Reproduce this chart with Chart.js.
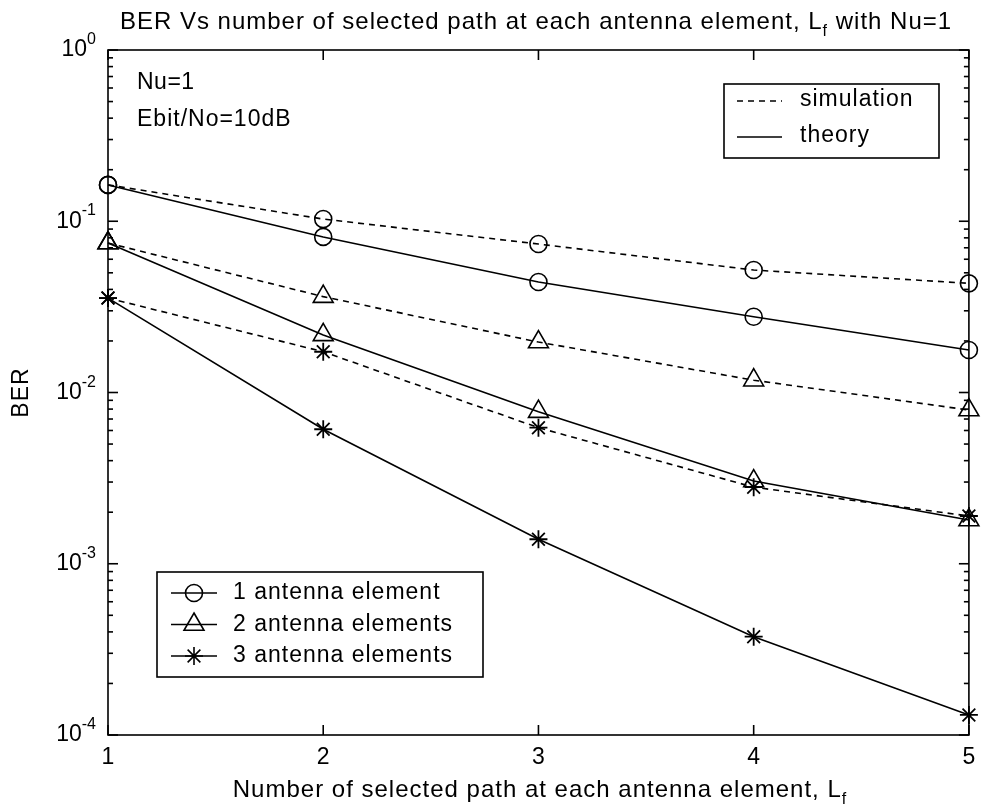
<!DOCTYPE html>
<html>
<head>
<meta charset="utf-8">
<script src="https://cdn.jsdelivr.net/npm/chart.js@4.4.0/dist/chart.umd.min.js"></script>
<style>
html, body { margin: 0; padding: 0; background: #fff; }
#wrap { width: 982px; height: 810px; position: relative; }
</style>
</head>
<body>
<div id="wrap"><canvas id="berChart"></canvas></div>
<script>
// number of selected paths L_f
const pathCounts = [1, 2, 3, 4, 5];

// BER values
const sim1 = [0.163, 0.103, 0.0736, 0.0519, 0.0434];
const theory1 = [0.163, 0.081, 0.0442, 0.0277, 0.0177];
const sim2 = [0.0746, 0.0363, 0.0197, 0.0118, 0.0079];
const theory2 = [0.0746, 0.0217, 0.00773, 0.00304, 0.0018];
const sim3 = [0.0356, 0.0173, 0.00623, 0.0028, 0.0019];
const theory3 = [0.0356, 0.0061, 0.00139, 0.000375, 0.000131];

// axis ticks
const xTickValues = [1, 2, 3, 4, 5];
const yDecades = [1, 0.1, 0.01, 0.001, 0.0001];
const yExponents = ['0', '-1', '-2', '-3', '-4'];

const elementLabels = ['1 antenna element', '2 antenna elements', '3 antenna elements'];
const markerStyles = ['circle', 'triangle', 'star'];

const FONT = '"Liberation Sans", Arial, sans-serif';
const INK = '#000';
const markerRadius = { circle: 8.5, triangle: 11.5, star: 9 };

function toPoints(values) {
    return values.map((v, i) => ({ x: pathCounts[i], y: v }));
}

function makeSet(label, values, style, dashed) {
    return {
        label: label,
        data: toPoints(values),
        borderColor: INK,
        borderWidth: 1.6,
        borderDash: dashed ? [6, 5] : [],
        pointStyle: style,
        pointRadius: markerRadius[style],
        pointBorderColor: INK,
        pointBackgroundColor: 'rgba(0,0,0,0)',
        pointBorderWidth: style === 'star' ? 1.8 : 1.6,
        tension: 0,
        fill: false,
        clip: false
    };
}

// draw text made of plain / subscript / superscript parts
function drawParts(ctx, parts, x, y, align, size, spacing) {
    ctx.letterSpacing = (spacing || 0) + 'px';
    const widths = parts.map(p => {
        ctx.font = (p.sub || p.sup ? Math.round(size * 0.68) : size) + 'px ' + FONT;
        return ctx.measureText(p.t).width;
    });
    const total = widths.reduce((s, w) => s + w, 0);
    let cx = align === 'center' ? x - total / 2 : (align === 'right' ? x - total : x);
    ctx.textAlign = 'left';
    ctx.textBaseline = 'middle';
    parts.forEach((p, i) => {
        const small = p.sub || p.sup;
        ctx.font = (small ? Math.round(size * 0.68) : size) + 'px ' + FONT;
        const dy = p.sub ? size * 0.38 : (p.sup ? -size * 0.45 : 0);
        ctx.fillText(p.t, cx, y + dy);
        cx += widths[i];
    });
    ctx.letterSpacing = '0px';
}

function seg(ctx, x1, y1, x2, y2) {
    ctx.beginPath();
    ctx.moveTo(x1, y1);
    ctx.lineTo(x2, y2);
    ctx.stroke();
}

const matlabAxes = {
    id: 'matlabAxes',
    beforeDatasetsDraw(chart) {
        const { ctx, chartArea: a, scales: { x, y } } = chart;
        ctx.save();
        ctx.strokeStyle = INK;
        ctx.lineWidth = 1.6;
        ctx.strokeRect(a.left, a.top, a.right - a.left, a.bottom - a.top);

        // x ticks, inward on bottom and top
        xTickValues.forEach(v => {
            const px = x.getPixelForValue(v);
            seg(ctx, px, a.bottom, px, a.bottom - 10);
            seg(ctx, px, a.top, px, a.top + 10);
        });

        // y ticks: decades and minor ticks
        yDecades.forEach((d, i) => {
            const py = y.getPixelForValue(d);
            seg(ctx, a.left, py, a.left + 10, py);
            seg(ctx, a.right, py, a.right - 10, py);
            if (i === yDecades.length - 1) return;
            for (let m = 2; m <= 9; m++) {
                const my = y.getPixelForValue(d * m / 10);
                seg(ctx, a.left, my, a.left + 5, my);
                seg(ctx, a.right, my, a.right - 5, my);
            }
        });
        ctx.restore();
    },
    afterDraw(chart) {
        const { ctx, chartArea: a, scales: { x, y } } = chart;
        ctx.save();
        ctx.fillStyle = INK;
        ctx.strokeStyle = INK;

        // tick labels
        ctx.font = '23px ' + FONT;
        ctx.textAlign = 'center';
        ctx.textBaseline = 'middle';
        xTickValues.forEach(v => {
            ctx.fillText(String(v), x.getPixelForValue(v), a.bottom + 23);
        });
        yDecades.forEach((d, i) => {
            const py = y.getPixelForValue(d);
            drawParts(ctx, [{ t: '10' }, { t: yExponents[i], sup: true }], a.left - 12, py, 'right', 23, 0);
        });

        // titles
        drawParts(ctx, [
            { t: 'BER Vs number of selected path at each antenna element, L' },
            { t: 'f', sub: true },
            { t: ' with Nu=1' }
        ], 536, 22, 'center', 24, 1);
        drawParts(ctx, [
            { t: 'Number of selected path at each antenna element, L' },
            { t: 'f', sub: true }
        ], 540, 790, 'center', 24, 1);

        ctx.save();
        ctx.translate(22, (a.top + a.bottom) / 2);
        ctx.rotate(-Math.PI / 2);
        drawParts(ctx, [{ t: 'BER' }], 0, 0, 'center', 23, 1);
        ctx.restore();

        // annotation text
        drawParts(ctx, [{ t: 'Nu=1' }], 137, 83, 'left', 23, 0.5);
        drawParts(ctx, [{ t: 'Ebit/No=10dB' }], 137, 120, 'left', 23, 1);

        // line style legend (top right)
        ctx.lineWidth = 1.6;
        ctx.strokeRect(724, 84, 215, 74);
        ctx.setLineDash([6, 5]);
        seg(ctx, 737, 101, 782, 101);
        ctx.setLineDash([]);
        seg(ctx, 737, 137, 782, 137);
        drawParts(ctx, [{ t: 'simulation' }], 800, 100, 'left', 23, 1);
        drawParts(ctx, [{ t: 'theory' }], 800, 136, 'left', 23, 1);

        // marker legend (bottom left)
        ctx.strokeRect(157, 572, 326, 105);
        elementLabels.forEach((lab, i) => {
            const ry = 593 + i * 31.5;
            ctx.fillStyle = 'rgba(0,0,0,0)';
            seg(ctx, 171, ry, 217, ry);
            Chart.helpers.drawPoint(ctx, {
                pointStyle: markerStyles[i],
                radius: markerRadius[markerStyles[i]],
                borderWidth: 1.6,
                rotation: 0
            }, 194, ry);
            ctx.fillStyle = INK;
            drawParts(ctx, [{ t: lab }], 233, ry, 'left', 23, 1);
        });
        ctx.restore();
    }
};

const ctx = document.getElementById('berChart').getContext('2d');
new Chart(ctx, {
    type: 'line',
    data: {
        datasets: [
            makeSet('1 antenna element (simulation)', sim1, 'circle', true),
            makeSet('1 antenna element (theory)', theory1, 'circle', false),
            makeSet('2 antenna elements (simulation)', sim2, 'triangle', true),
            makeSet('2 antenna elements (theory)', theory2, 'triangle', false),
            makeSet('3 antenna elements (simulation)', sim3, 'star', true),
            makeSet('3 antenna elements (theory)', theory3, 'star', false)
        ]
    },
    options: {
        responsive: true,
        maintainAspectRatio: false,
        animation: false,
        devicePixelRatio: 1,
        layout: { padding: { left: 108, top: 50, right: 6, bottom: 75 } },
        plugins: {
            legend: { display: false },
            title: { display: false },
            tooltip: { enabled: false }
        },
        scales: {
            x: { type: 'linear', min: 1, max: 5, display: false },
            y: { type: 'logarithmic', min: 0.0001, max: 1, display: false }
        }
    },
    plugins: [matlabAxes]
});
</script>
</body>
</html>
